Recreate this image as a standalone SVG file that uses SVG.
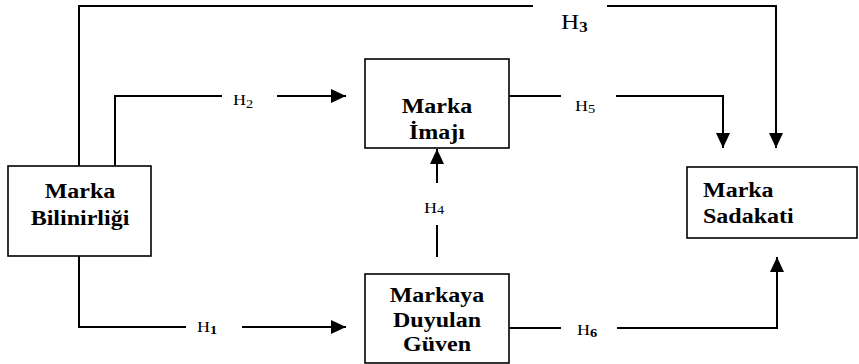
<svg xmlns="http://www.w3.org/2000/svg" width="859" height="364" viewBox="0 0 859 364">
<style>
.box{fill:#fff;stroke:#000;stroke-width:1.6}
.n{font-family:"Liberation Serif","Times New Roman",serif;font-weight:700;font-size:20px;fill:#000}
.c{fill:none;stroke:#000;stroke-width:2}
.l{font-family:"Liberation Serif","Times New Roman",serif;font-size:15px;fill:#000}
.s{font-size:12px}
</style>
<defs>
<marker id="ah" markerUnits="userSpaceOnUse" markerWidth="16" markerHeight="15" refX="15" refY="7" orient="auto">
<path d="M0,0 L15,7 L0,14 z" fill="#000"/>
</marker>
</defs>
<rect width="859" height="364" fill="#fff"/>
<g id="connectors">
<path class="c" d="M79,166 V6 H533"/>
<path class="c" d="M607,6 H776 V148" marker-end="url(#ah)"/>
<path class="c" d="M115,166 V96 H222"/>
<path class="c" d="M277,96 H346" marker-end="url(#ah)"/>
<path class="c" d="M509,96 H561"/>
<path class="c" d="M616,96 H723 V148" marker-end="url(#ah)"/>
<path class="c" d="M79,256 V327 H186"/>
<path class="c" d="M242,327 H346" marker-end="url(#ah)"/>
<path class="c" d="M437,257 V225"/>
<path class="c" d="M437,183 V149" marker-end="url(#ah)"/>
<path class="c" d="M509,328 H561"/>
<path class="c" d="M617,328 H777 V257" marker-end="url(#ah)"/>
<text class="l" transform="translate(561,29) scale(1.2,1)" style="font-size:21px">H<tspan class="s" dy="3" style="font-size:14px;font-weight:bold">3</tspan></text>
<text class="l" transform="translate(233,105) scale(1.2,1)">H<tspan class="s" dy="3">2</tspan></text>
<text class="l" transform="translate(575,111) scale(1.2,1)">H<tspan class="s" dy="2">5</tspan></text>
<text class="l" transform="translate(197,332) scale(1.2,1)">H<tspan class="s" dy="2" style="font-weight:bold">1</tspan></text>
<text class="l" transform="translate(424,213) scale(1.2,1)">H<tspan class="s" dy="1">4</tspan></text>
<text class="l" transform="translate(577,335) scale(1.2,1)">H<tspan class="s" dy="2" style="font-weight:bold">6</tspan></text>
</g>
<g id="bilinirligi">
<rect class="box" x="8" y="166" width="143" height="90"/>
<text class="n" transform="translate(80,198) scale(1.2,1)" text-anchor="middle">Marka</text>
<text class="n" transform="translate(80,225) scale(1.2,1)" text-anchor="middle">Bilinirliği</text>
</g>
<g id="imaji">
<rect class="box" x="365" y="59" width="144" height="89"/>
<text class="n" transform="translate(437,113) scale(1.2,1)" text-anchor="middle">Marka</text>
<text class="n" transform="translate(437,139) scale(1.2,1)" text-anchor="middle">İmajı</text>
</g>
<g id="guven">
<rect class="box" x="365" y="274" width="144" height="89"/>
<text class="n" transform="translate(437,302) scale(1.2,1)" text-anchor="middle">Markaya</text>
<text class="n" transform="translate(437,327) scale(1.2,1)" text-anchor="middle">Duyulan</text>
<text class="n" transform="translate(437,351) scale(1.2,1)" text-anchor="middle">Güven</text>
</g>
<g id="sadakati">
<rect class="box" x="687" y="167" width="170" height="71"/>
<text class="n" transform="translate(703,197) scale(1.2,1)">Marka</text>
<text class="n" transform="translate(703,223) scale(1.2,1)">Sadakati</text>
</g>
</svg>
